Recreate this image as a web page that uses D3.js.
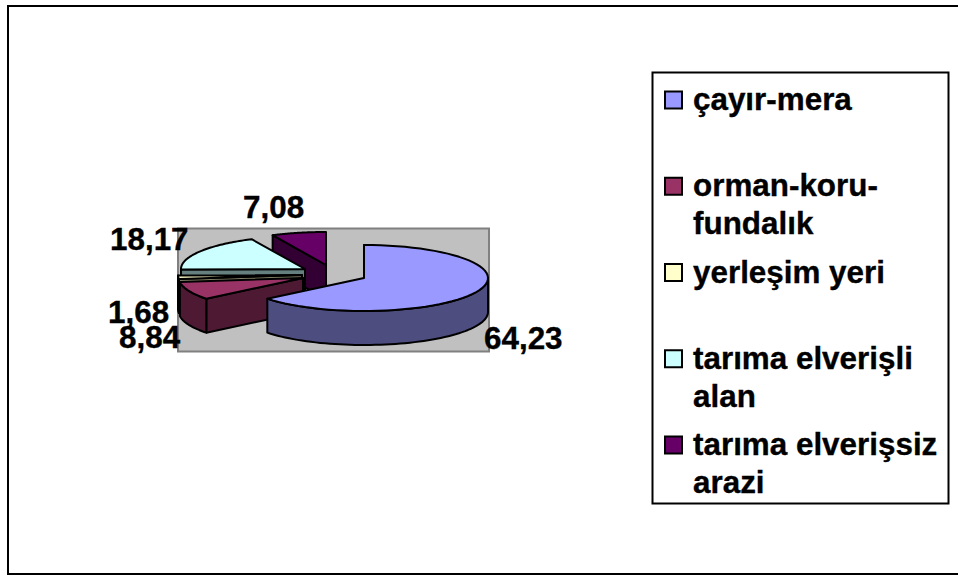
<!DOCTYPE html>
<html>
<head>
<meta charset="utf-8">
<script src="https://cdn.jsdelivr.net/npm/d3@7"></script>
<style>
  html, body { margin: 0; padding: 0; background: white; overflow: hidden; }
  text { font-family: "Liberation Sans", Arial, sans-serif; font-weight: bold; fill: black; stroke: black; stroke-width: 0.35px; }
</style>
</head>
<body>
<div id="chart"></div>
<script>
// Data
const categories = ["çayır-mera", "orman-koru-fundalık", "yerleşim yeri", "tarıma elverişli alan", "tarıma elverişsiz arazi"];
const values = [64.23, 8.84, 1.68, 18.17, 7.08];
const valueLabels = ["64,23", "8,84", "1,68", "18,17", "7,08"];
const legendLines = [["çayır-mera"], ["orman-koru-", "fundalık"], ["yerleşim yeri"], ["tarıma elverişli", "alan"], ["tarıma elverişsiz", "arazi"]];

// Colours
const topColors = ["#9999ff", "#993366", "#ffffcc", "#ccffff", "#660066"];
const wallColors = ["#4d4d80", "#4d1933", "#808066", "#668080", "#330033"];

// Layout
const width = 958, height = 577;
const rx = 124, ry = 33, depth = 34;
// exploded slice centres
const sliceCenters = [[364, 278], [303, 278], [302, 275], [305, 269], [326, 265]];
// data label anchors (left x, baseline)
const labelPos = [[484, 349], [119, 348], [108, 323], [110, 250], [243, 218]];

const svg = d3.select("#chart")
  .append("svg")
  .attr("width", width)
  .attr("height", height)
  .style("display", "block");

// Outer frame, the right side runs off the page
svg.append("rect")
  .attr("x", 8).attr("y", 6)
  .attr("width", 960).attr("height", 568)
  .attr("fill", "white")
  .attr("stroke", "black")
  .attr("stroke-width", 2);

// Plot area
svg.append("rect")
  .attr("x", 178).attr("y", 228.5)
  .attr("width", 311).attr("height", 123)
  .attr("fill", "#c0c0c0")
  .attr("stroke", "#808080")
  .attr("stroke-width", 2);

const arcs = d3.pie().sort(null)(values);

// angle -> point on the ellipse, clockwise from 12 o'clock
const pt = (c, a, dy = 0) => [c[0] + rx * Math.sin(a), c[1] - ry * Math.cos(a) + dy];
const angles = (a0, a1) => d3.range(0, 61).map(i => a0 + (a1 - a0) * i / 60);
const poly = d3.line();

const slices = svg.append("g")
  .attr("stroke", "black")
  .attr("stroke-width", 2)
  .attr("stroke-linejoin", "round");

// Painter's order, back slices first
[4, 3, 2, 1, 0].forEach(i => {
  const d = arcs[i], c = sliceCenters[i];
  const s = pt(c, d.startAngle);

  // cut face on the start side
  slices.append("path")
    .attr("fill", wallColors[i])
    .attr("d", poly([c, s, [s[0], s[1] + depth], [c[0], c[1] + depth]]) + "Z");

  // outer wall, only the part that faces the viewer
  const a0 = Math.max(d.startAngle, Math.PI / 2), a1 = Math.min(d.endAngle, Math.PI * 1.5);
  if (a1 > a0) {
    const edge = angles(a0, a1);
    slices.append("path")
      .attr("fill", wallColors[i])
      .attr("d", poly(edge.map(a => pt(c, a)).concat(edge.reverse().map(a => pt(c, a, depth)))) + "Z");
  }

  // top surface
  slices.append("path")
    .attr("fill", topColors[i])
    .attr("d", poly([c].concat(angles(d.startAngle, d.endAngle).map(a => pt(c, a)))) + "Z");
});

// Data labels
svg.append("g").selectAll("text")
  .data(valueLabels)
  .join("text")
  .attr("x", (d, i) => labelPos[i][0])
  .attr("y", (d, i) => labelPos[i][1])
  .style("font-size", "31.4px")
  .text(d => d);

// Legend
svg.append("rect")
  .attr("x", 652.5).attr("y", 72.5)
  .attr("width", 296).attr("height", 431)
  .attr("fill", "white")
  .attr("stroke", "black")
  .attr("stroke-width", 2);

const legendY = d3.scalePoint().domain(categories).range([110, 455]);

const legend = svg.append("g").selectAll("g")
  .data(categories)
  .join("g")
  .attr("transform", d => `translate(0,${legendY(d)})`);

legend.append("rect")
  .attr("x", 665).attr("y", -18.5)
  .attr("width", 17).attr("height", 17)
  .attr("fill", (d, i) => topColors[i])
  .attr("stroke", "black")
  .attr("stroke-width", 2);

legend.append("text")
  .attr("x", 693)
  .style("font-size", "31.4px")
  .selectAll("tspan")
  .data((d, i) => legendLines[i])
  .join("tspan")
  .attr("x", 693)
  .attr("dy", (d, i) => i ? 38 : 0)
  .text(d => d);
</script>
</body>
</html>
